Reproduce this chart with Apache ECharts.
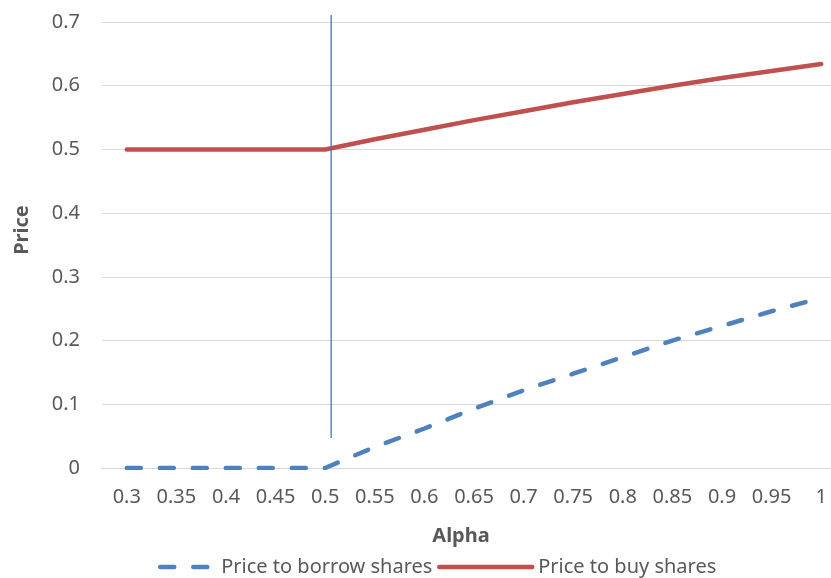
<!doctype html>
<html>
<head>
    <meta http-equiv="Content-Type" content="text/html; charset=utf-8">
    <title>Price vs Alpha</title>
    <script src="https://cdn.jsdelivr.net/npm/echarts@6/dist/echarts.min.js"></script>
    <style>
        html, body { margin: 0; padding: 0; background: #fff; }
        #chart { width: 831px; height: 578px; }
    </style>
</head>
<body>
<div id="chart"></div>
<script type="text/javascript">

    // data
    var alphas = ['0.3', '0.35', '0.4', '0.45', '0.5', '0.55', '0.6', '0.65', '0.7', '0.75', '0.8', '0.85', '0.9', '0.95', '1'];
    var borrowPrice = [0, 0, 0, 0, 0, 0.033, 0.062, 0.093, 0.122, 0.148, 0.174, 0.200, 0.223, 0.246, 0.267];
    var buyPrice = [0.5, 0.5, 0.5, 0.5, 0.5, 0.516, 0.531, 0.546, 0.560, 0.574, 0.587, 0.600, 0.612, 0.623, 0.634];
    var yTicks = [0, 0.1, 0.2, 0.3, 0.4, 0.5, 0.6, 0.7];
    // the thin vertical marker near alpha = 0.5
    var markerAlpha = 0.506;
    var markerRange = [0.047, 0.711];

    var labelColor = '#595959';
    var font = '"Noto Sans", "DejaVu Sans", sans-serif';

    var myChart = echarts.init(document.getElementById('chart'));
    var option = {
        backgroundColor: '#fff',
        animation: false,
        grid: { left: 102, top: 22, width: 744, bottom: 110, outerBoundsMode: 'none', containLabel: false },
        legend: [
            {
                data: ['Price to borrow shares'],
                left: 158,
                top: 557,
                padding: 0,
                itemWidth: 52,
                itemHeight: 14,
                itemStyle: { opacity: 0 },
                lineStyle: { width: 4.5 },
                textStyle: { color: labelColor, fontSize: 20, fontFamily: font, padding: [0, 0, 0, 4] }
            },
            {
                data: ['Price to buy shares'],
                left: 437,
                top: 557,
                padding: 0,
                itemWidth: 93,
                itemHeight: 14,
                itemStyle: { opacity: 0 },
                lineStyle: { width: 4.5 },
                textStyle: { color: labelColor, fontSize: 20, fontFamily: font, padding: [0, 0, 0, 1] }
            }
        ],
        xAxis: [
            {
                type: 'category',
                data: alphas,
                boundaryGap: true,
                name: 'Alpha',
                nameLocation: 'middle',
                nameGap: 58,
                nameTextStyle: { color: labelColor, fontSize: 20, fontWeight: 'bold', fontFamily: font, padding: [0, 26, 0, 0] },
                axisLine: { lineStyle: { color: '#D9D9D9', width: 1 } },
                axisTick: { show: false },
                axisLabel: { color: labelColor, fontSize: 20, fontFamily: font, margin: 19, interval: 0 },
                splitLine: { show: false }
            },
            {
                type: 'value',
                min: 0.275,
                max: 1.025,
                show: false
            }
        ],
        yAxis: {
            type: 'value',
            min: yTicks[0],
            max: yTicks[yTicks.length - 1],
            interval: 0.1,
            name: 'Price',
            nameLocation: 'middle',
            nameRotate: 90,
            nameGap: 70,
            nameTextStyle: { color: labelColor, fontSize: 20, fontWeight: 'bold', fontFamily: font, padding: [0, 0, 0, 30] },
            axisLine: { show: false },
            axisTick: { show: false },
            axisLabel: { color: labelColor, fontSize: 20, fontFamily: font, margin: 22 },
            splitLine: { lineStyle: { color: '#D9D9D9', width: 1 } }
        },
        series: [
            {
                name: 'Price to borrow shares',
                type: 'line',
                data: borrowPrice,
                symbol: 'none',
                color: '#4F81BD',
                lineStyle: { color: '#4F81BD', width: 4.5, type: [14, 19], cap: 'round' },
                z: 3
            },
            {
                name: 'Price to buy shares',
                type: 'line',
                data: buyPrice,
                symbol: 'none',
                color: '#C0504D',
                lineStyle: { color: '#C0504D', width: 4.5, cap: 'round' },
                z: 3
            },
            {
                name: 'marker',
                type: 'line',
                xAxisIndex: 1,
                data: [[markerAlpha, markerRange[0]], [markerAlpha, markerRange[1]]],
                symbol: 'none',
                clip: false,
                lineStyle: { color: '#4472C4', width: 1.3 },
                z: 4
            }
        ]
    };
    myChart.setOption(option);

</script>
</body>
</html>
